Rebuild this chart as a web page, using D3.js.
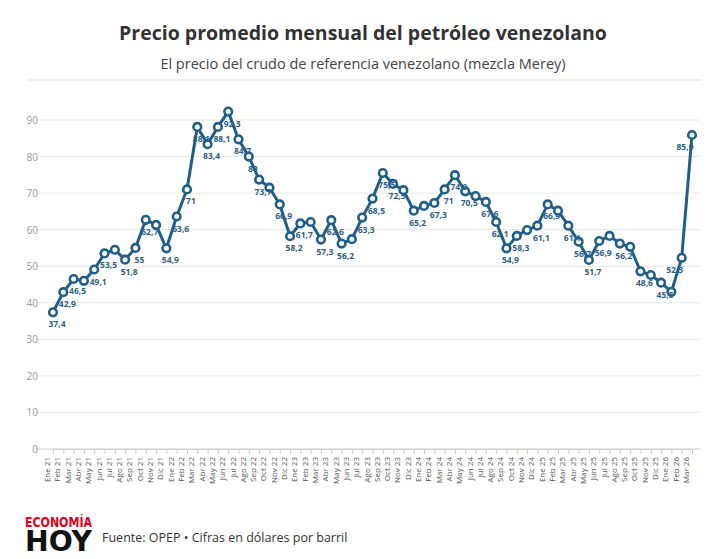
<!DOCTYPE html>
<html><head><meta charset="utf-8">
<script src="https://cdn.jsdelivr.net/npm/d3@7"></script>
<style>body{margin:0;background:#fff}text{font-family:"Open Sans","Noto Sans",sans-serif}</style>
</head><body><svg></svg>
<script>
var months=["Ene 21","Feb 21","Mar 21","Abr 21","May 21","Jun 21","Jul 21","Ago 21","Sep 21","Oct 21","Nov 21","Dic 21",
"Ene 22","Feb 22","Mar 22","Abr 22","May 22","Jun 22","Jul 22","Ago 22","Sep 22","Oct 22","Nov 22","Dic 22",
"Ene 23","Feb 23","Mar 23","Abr 23","May 23","Jun 23","Jul 23","Ago 23","Sep 23","Oct 23","Nov 23","Dic 23",
"Ene 24","Feb 24","Mar 24","Abr 24","May 24","Jun 24","Jul 24","Ago 24","Sep 24","Oct 24","Nov 24","Dic 24",
"Ene 25","Feb 25","Mar 25","Abr 25","May 25","Jun 25","Jul 25","Ago 25","Sep 25","Oct 25","Nov 25","Dic 25",
"Ene 26","Feb 26","Mar 26"]
var prices=[37.4,42.9,46.5,46,49.1,53.5,54.5,51.8,55,62.7,61.3,54.9,
63.6,71,88.1,83.4,88.1,92.3,84.7,80,73.7,71.5,66.9,58.2,
61.7,62.1,57.3,62.6,56.2,57.4,63.3,68.5,75.5,72.5,70.8,65.2,
66.5,67.3,71,74.9,70.5,69.2,67.6,62.1,54.9,58.3,59.9,61.1,
66.9,65.2,61.1,56.7,51.7,56.9,58.3,56.2,55.3,48.6,47.6,45.5,
43,52.3,85.9]
// which points carry a value label
var labeled=[1,1,1,0,1,1,0,1,1,1,0,1, 1,1,1,1,1,1,1,1,1,0,1,1, 1,0,1,1,1,0,1,1,1,1,0,1,
0,1,1,1,1,0,1,1,1,1,0,1, 1,0,1,1,1,1,0,1,0,1,0,1, 0,1,1]
var yTicks=[0,10,20,30,40,50,60,70,80,90]

var W=711,H=559
var svg=d3.select("svg").attr("width",W).attr("height",H)
var x=d3.scalePoint().domain(months).range([53,692])
var y=d3.scaleLinear().domain([0,90]).range([449,120])
var pts=prices.map((v,i)=>({m:months[i],v:v,show:labeled[i],i:i}))

svg.append("text").attr("x",363).attr("y",40).attr("text-anchor","middle")
  .style("font-size","19.5px").style("font-weight","bold").attr("fill","#333")
  .text("Precio promedio mensual del petróleo venezolano")
svg.append("text").attr("x",363).attr("y",69).attr("text-anchor","middle")
  .style("font-size","14.5px").attr("fill","#444")
  .text("El precio del crudo de referencia venezolano (mezcla Merey)")
svg.append("line").attr("x1",28).attr("x2",702).attr("y1",80).attr("y2",80).attr("stroke","#ddd")

svg.append("g").selectAll("line").data(yTicks).enter().append("line")
  .attr("x1",35).attr("x2",700).attr("y1",d=>y(d)).attr("y2",d=>y(d))
  .attr("stroke",d=>d==0?"#ccc":"#e8e8e8")
svg.append("g").selectAll("text").data(yTicks).enter().append("text")
  .attr("x",38).attr("y",d=>y(d)+4).attr("text-anchor","end")
  .style("font-size","10px").attr("fill","#999").text(d=>d)

var xa=svg.append("g").attr("transform","translate(0,449)")
  .call(d3.axisBottom(x).tickSize(5).tickPadding(3))
xa.select(".domain").attr("stroke","#ccc")
xa.selectAll(".tick line").attr("stroke","#ccc")
xa.selectAll(".tick text").attr("transform","rotate(-90)").attr("text-anchor","end")
  .attr("x",-8).attr("y",-3.5).attr("dy",0).style("font-size","8px").attr("fill","#555")

var line=d3.line().x(d=>x(d.m)).y(d=>y(d.v))
svg.append("path").datum(pts).attr("d",line).attr("fill","none")
  .attr("stroke","#1f5f8b").attr("stroke-width",3).attr("stroke-linejoin","round")
svg.append("g").selectAll("circle").data(pts).enter().append("circle")
  .attr("cx",d=>x(d.m)).attr("cy",d=>y(d.v)).attr("r",3.8)
  .attr("fill","#fff").attr("stroke","#1f5f8b").attr("stroke-width",2.6)
svg.append("g").selectAll("text").data(pts.filter(d=>d.show)).enter().append("text")
  .attr("x",d=>x(d.m)+(d.i>=61?-7:4))
  .attr("y",d=>y(d.v)+15).attr("text-anchor","middle")
  .style("font-size","8.5px").style("font-weight","bold").attr("fill","#2e5f86")
  .text(d=>String(d.v).replace(".",","))

svg.append("text").attr("x",25).attr("y",527).style("font-size","14px").style("font-weight","900")
  .style("font-family","'Liberation Sans Narrow','DejaVu Sans Condensed',sans-serif")
  .attr("fill","#e4001b").attr("textLength",67).attr("lengthAdjust","spacingAndGlyphs").text("ECONOMÍA")
svg.append("text").attr("x",25).attr("y",551).style("font-size","28px").style("font-weight","900")
  .style("font-family","'Liberation Sans Narrow','DejaVu Sans Condensed',sans-serif")
  .attr("fill","#111").attr("textLength",67).attr("lengthAdjust","spacingAndGlyphs").text("HOY")
svg.append("text").attr("x",102).attr("y",542).style("font-size","12.5px").attr("fill","#333")
  .text("Fuente: OPEP • Cifras en dólares por barril")
</script></body></html>
